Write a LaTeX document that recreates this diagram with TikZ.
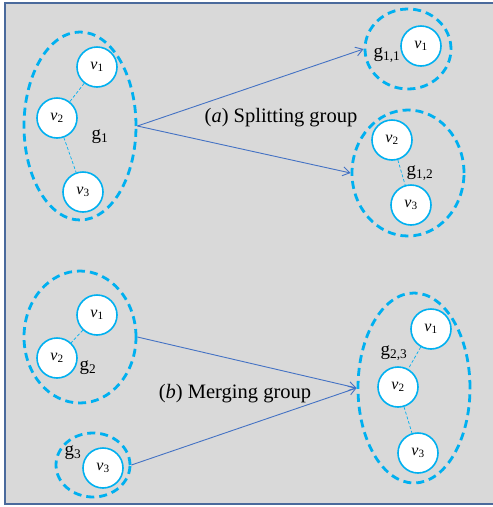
\documentclass[tikz,border=0pt]{standalone}
\usepackage{fontspec}
\setmainfont{Liberation Serif}
\usetikzlibrary{shapes.geometric,arrows.meta}

\definecolor{panelgray}{HTML}{D9D9D9}
\definecolor{frameblue}{HTML}{4A6A9C}
\definecolor{groupcyan}{HTML}{00B0F0}
\definecolor{arrowblue}{HTML}{4472C4}

\newcommand{\vtx}[1]{{\itshape v}\textsubscript{#1}}
\newcommand{\grp}[1]{g\textsubscript{#1}}

\tikzset{
  vertex/.style={circle, draw=groupcyan, line width=1.6pt, fill=white,
    minimum size=40pt, inner sep=0pt, font=\fontsize{16}{16}\selectfont},
  group/.style={ellipse, draw=groupcyan, line width=2.8pt,
    dash pattern=on 8pt off 5pt, inner sep=0pt},
  link/.style={draw=groupcyan, line width=0.7pt, dash pattern=on 3pt off 2pt},
  move/.style={draw=arrowblue, line width=0.9pt,
    -{Straight Barb[length=7pt,width=9pt,line width=0.9pt]}},
  glabel/.style={font=\fontsize{19}{19}\selectfont, inner sep=0pt},
  caption/.style={font=\fontsize{20.5}{20.5}\selectfont, inner sep=0pt}
}

\begin{document}
\begin{tikzpicture}[x=1pt, y=-1pt]
  \useasboundingbox (0,0) rectangle (493,507);
  % panel
  \fill[panelgray] (5,3) rectangle (500,504);
  \draw[frameblue, line width=2.5pt] (500,3) -- (5,3) -- (5,504) -- (500,504);

  % ---- (a) splitting ----
  \node[group, minimum width=112pt, minimum height=188pt] (g1) at (80,126) {};
  \node[vertex] (a1) at (97,67) {\vtx{1}};
  \node[vertex] (a2) at (57,118) {\vtx{2}};
  \node[vertex] (a3) at (83,192) {\vtx{3}};
  \path[link] (a1) -- (a2) (a2) -- (a3);
  \node[glabel] (lg1) at (100,137) {\grp{1}};

  \node[group, minimum width=86pt, minimum height=80pt] (g11) at (408,49) {};
  \node[vertex] (b1) at (421,46) {\vtx{1}};
  \node[glabel] (lg11) at (387,55) {\grp{1,1}};

  \node[group, minimum width=112pt, minimum height=126pt] (g12) at (408,173) {};
  \node[vertex] (c2) at (392,140) {\vtx{2}};
  \node[vertex] (c3) at (411,205) {\vtx{3}};
  \path[link] (c2) -- (c3);
  \node[glabel] (lg12) at (420,173) {\grp{1,2}};

  \draw[move] (g1.east) -- (g11.west);
  \draw[move] (g1.east) -- (g12.west);
  \node[caption] (capa) at (281,118) {(\textit{a}) Splitting group};

  % ---- (b) merging ----
  \node[group, minimum width=112pt, minimum height=132pt] (g2) at (80,337) {};
  \node[vertex] (d1) at (97,315) {\vtx{1}};
  \node[vertex] (d2) at (57,358) {\vtx{2}};
  \path[link] (d1) -- (d2);
  \node[glabel] (lg2) at (88,368) {\grp{2}};

  \node[group, minimum width=74pt, minimum height=64pt] (g3) at (93,465) {};
  \node[vertex] (e3) at (103,468) {\vtx{3}};
  \node[glabel] (lg3) at (73,453) {\grp{3}};

  \node[group, minimum width=112pt, minimum height=190pt] (g23) at (414,388) {};
  \node[vertex] (f1) at (431,329) {\vtx{1}};
  \node[vertex] (f2) at (398,387) {\vtx{2}};
  \node[vertex] (f3) at (418,453) {\vtx{3}};
  \path[link] (f1) -- (f2) (f2) -- (f3);
  \node[glabel] (lg23) at (394,353) {\grp{2,3}};

  \draw[move] (g2.east) -- (g23.west);
  \draw[move] (g3.east) -- (g23.west);
  \node[caption] (capb) at (235,394) {(\textit{b}) Merging group};
\end{tikzpicture}
\end{document}
